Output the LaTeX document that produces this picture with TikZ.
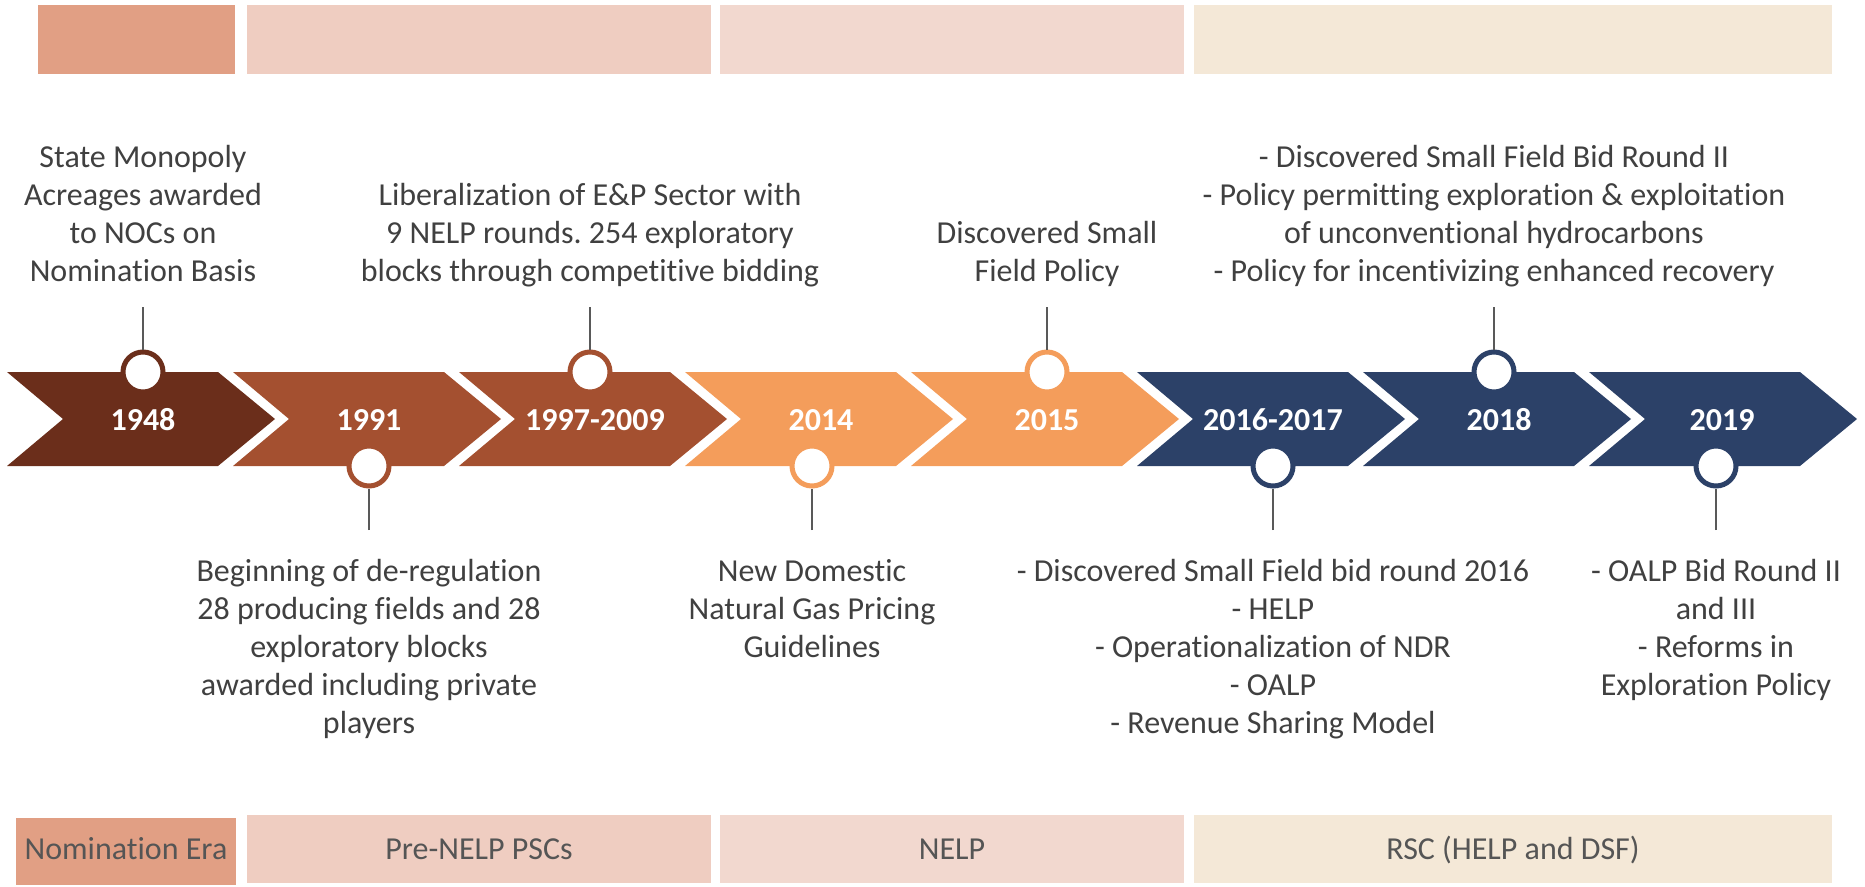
\documentclass[tikz,border=0pt]{standalone}
\usepackage{fontspec}
\setmainfont{Carlito}[Ligatures=NoCommon]
\frenchspacing
\definecolor{cbrown}{HTML}{6B2E1B}
\definecolor{crust}{HTML}{A45030}
\definecolor{corange}{HTML}{F49D5B}
\definecolor{cnavy}{HTML}{2C4168}
\definecolor{eraA}{HTML}{E19F84}
\definecolor{eraB}{HTML}{EFCDC1}
\definecolor{eraC}{HTML}{F2D8CF}
\definecolor{eraD}{HTML}{F4E8D7}
\definecolor{ctext}{HTML}{404040}
\definecolor{cline}{HTML}{595959}
\definecolor{cera}{HTML}{555555}
\begin{document}
\begin{tikzpicture}[x=1pt,y=-1pt,
  bigfont/.style={font=\fontsize{32}{38}\selectfont},
  yearlbl/.style={font=\fontsize{32}{38}\selectfont\bfseries, text=white, anchor=base, inner sep=0},
  toptxt/.style={bigfont, text=ctext, align=center, anchor=south, inner sep=0},
  bottxt/.style={bigfont, text=ctext, align=center, anchor=north, inner sep=0},
  eralbl/.style={bigfont, text=cera, anchor=base, inner sep=0},
  ringdot/.style={circle, minimum size=40pt, inner sep=0, line width=5pt, draw=#1, fill=white},
  stem/.style={draw=cline, line width=1.6pt}
]
\useasboundingbox (0,0) rectangle (1865,886);

% era bars top
\fill[eraA] (38,5) rectangle (235,74);
\fill[eraB] (247,5) rectangle (711,74);
\fill[eraC] (720,5) rectangle (1184,74);
\fill[eraD] (1194,5) rectangle (1832,74);

% era bars bottom
\fill[eraA] (16,818) rectangle (236,885);
\fill[eraB] (247,815) rectangle (711,883);
\fill[eraC] (720,815) rectangle (1184,883);
\fill[eraD] (1194,815) rectangle (1832,883);
\node[eralbl] (e1) at (126,859) {Nomination Era};
\node[eralbl] (e2) at (479,859) {Pre-NELP PSCs};
\node[eralbl] (e3) at (952,859) {NELP};
\node[eralbl] (e4) at (1513,859) {RSC (HELP and DSF)};

% chevrons
\foreach \k/\col in {0/cbrown,1/crust,2/crust,3/corange,4/corange,5/cnavy,6/cnavy,7/cnavy}{
  \pgfmathsetmacro{\L}{7+226*\k}
  \fill[\col] (\L,372) -- ({\L+211},372) -- ({\L+268},419) -- ({\L+211},466) -- (\L,466) -- ({\L+56},419) -- cycle;
}

% years
\node[yearlbl] (y1) at (143,430) {1948};
\node[yearlbl] (y2) at (369,430) {1991};
\node[yearlbl] (y3) at (595,430) {1997-2009};
\node[yearlbl] (y4) at (821,430) {2014};
\node[yearlbl] (y5) at (1047,430) {2015};
\node[yearlbl] (y6) at (1273,430) {2016-2017};
\node[yearlbl] (y7) at (1499,430) {2018};
\node[yearlbl] (y8) at (1722,430) {2019};

% dots
\node[ringdot=cbrown] (c1) at (143,372) {};
\node[ringdot=crust] (c2) at (369,466) {};
\node[ringdot=crust] (c3) at (590,372) {};
\node[ringdot=corange] (c4) at (812,466) {};
\node[ringdot=corange] (c5) at (1047,372) {};
\node[ringdot=cnavy] (c6) at (1273,466) {};
\node[ringdot=cnavy] (c7) at (1494,372) {};
\node[ringdot=cnavy] (c8) at (1716,466) {};

% stems
\coordinate (s1) at (143,307);
\coordinate (s2) at (369,530);
\coordinate (s3) at (590,307);
\coordinate (s4) at (812,530);
\coordinate (s5) at (1047,307);
\coordinate (s6) at (1273,530);
\coordinate (s7) at (1494,307);
\coordinate (s8) at (1716,530);
\foreach \i in {1,...,8}{ \draw[stem] (s\i) -- (c\i); }

% descriptions
\node[toptxt] (d1) at (143,293) {State Monopoly\\Acreages awarded\\to NOCs on\\Nomination Basis\strut};
\node[toptxt] (d3) at (590,293) {Liberalization of E\&P Sector with\\9 NELP rounds. 254 exploratory\\blocks through competitive bidding\strut};
\node[toptxt] (d5) at (1047,293) {Discovered Small\\Field Policy\strut};
\node[toptxt] (d7) at (1494,293) {- Discovered Small Field Bid Round II\\- Policy permitting exploration \& exploitation\\of unconventional hydrocarbons\\- Policy for incentivizing enhanced recovery\strut};

\node[bottxt] (d2) at (369,555) {\strut Beginning of de-regulation\\28 producing fields and 28\\exploratory blocks\\awarded including private\\players};
\node[bottxt] (d4) at (812,555) {\strut New Domestic\\Natural Gas Pricing\\Guidelines};
\node[bottxt] (d6) at (1273,555) {\strut - Discovered Small Field bid round 2016\\- HELP\\- Operationalization of NDR\\- OALP\\- Revenue Sharing Model};
\node[bottxt] (d8) at (1716,555) {\strut - OALP Bid Round II\\and III\\- Reforms in\\Exploration Policy};
\end{tikzpicture}
\end{document}
